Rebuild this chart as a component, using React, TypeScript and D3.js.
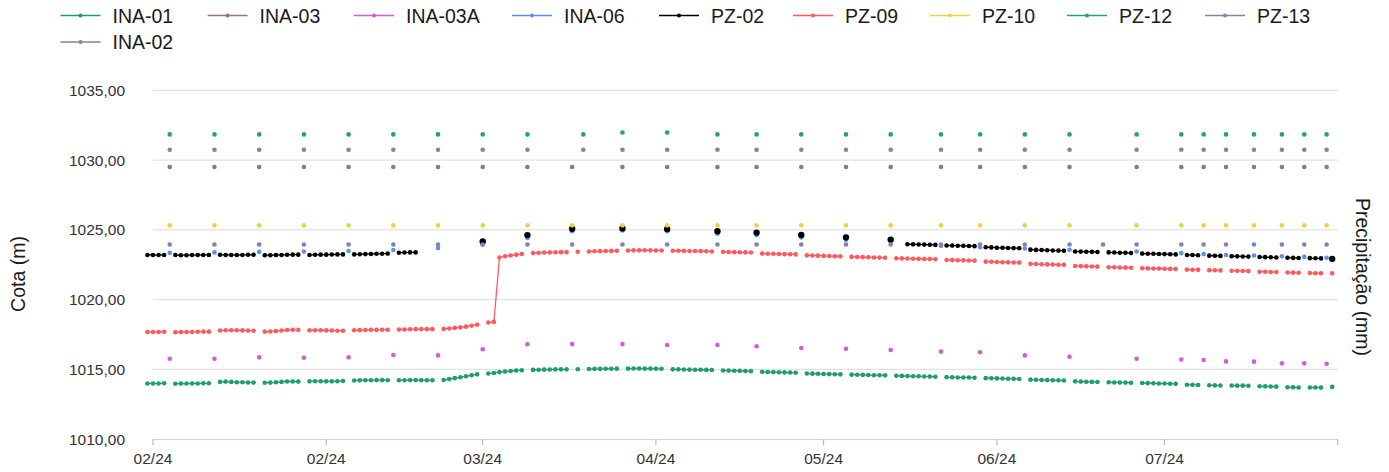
import React from "react";
import * as d3 from "d3";

const W = 1389;
const H = 472;

const yTicks = [1010, 1015, 1020, 1025, 1030, 1035];
const xTickDates = ["2024-01-02", "2024-02-02", "2024-03-01", "2024-04-01", "2024-05-01", "2024-06-01", "2024-07-01", "2024-08-01"];
const xTickLabels = ["02/24", "02/24", "03/24", "04/24", "05/24", "06/24", "07/24", ""];

// manual reading dates (sparse series)
const readingDates = [
  "2024-01-05", "2024-01-13", "2024-01-21", "2024-01-29", "2024-02-06", "2024-02-14", "2024-02-22",
  "2024-03-01", "2024-03-09", "2024-03-17", "2024-03-19", "2024-03-26", "2024-04-03", "2024-04-12",
  "2024-04-19", "2024-04-27", "2024-05-05", "2024-05-13", "2024-05-22", "2024-05-29", "2024-06-06",
  "2024-06-14", "2024-06-20", "2024-06-26", "2024-07-04", "2024-07-08", "2024-07-12", "2024-07-17",
  "2024-07-22", "2024-07-26", "2024-07-30",
];

const pz12Values = [1031.84, 1031.84, 1031.84, 1031.84, 1031.84, 1031.84, 1031.84, 1031.84, 1031.84, null, 1031.84, 1031.98, 1031.98, 1031.84, 1031.84, 1031.84, 1031.84, 1031.84, 1031.84, 1031.84, 1031.84, 1031.84, null, 1031.84, 1031.84, 1031.84, 1031.84, 1031.84, 1031.84, 1031.84, 1031.84];
const pz13Values = [1030.74, 1030.74, 1030.74, 1030.74, 1030.74, 1030.74, 1030.74, 1030.74, 1030.74, null, 1030.74, 1030.74, 1030.74, 1030.74, 1030.74, 1030.74, 1030.74, 1030.74, 1030.74, 1030.74, 1030.74, 1030.74, null, 1030.74, 1030.74, 1030.74, 1030.74, 1030.74, 1030.74, 1030.74, 1030.74];
const ina03Values = [1029.5, 1029.5, 1029.5, 1029.5, 1029.5, 1029.5, 1029.5, 1029.5, 1029.5, 1029.5, null, 1029.5, 1029.5, 1029.5, 1029.5, 1029.5, 1029.5, 1029.5, 1029.5, 1029.5, 1029.5, 1029.5, null, 1029.5, 1029.5, 1029.5, 1029.5, 1029.5, 1029.5, 1029.5, 1029.5];
const pz10Values = [1025.32, 1025.32, 1025.32, 1025.32, 1025.32, 1025.32, 1025.32, 1025.32, 1025.32, 1025.32, null, 1025.32, 1025.32, 1025.32, 1025.32, 1025.32, 1025.32, 1025.32, 1025.32, 1025.32, 1025.32, 1025.32, null, 1025.32, 1025.32, 1025.32, 1025.32, 1025.32, 1025.32, 1025.32, 1025.32];
const ina03aValues = [1015.76, 1015.76, 1015.86, 1015.83, 1015.86, 1016.03, 1016.0, 1016.44, 1016.8, 1016.81, null, 1016.81, 1016.74, 1016.74, 1016.66, 1016.53, 1016.48, 1016.39, 1016.27, 1016.22, 1016.0, 1015.9, null, 1015.76, 1015.71, 1015.67, 1015.57, 1015.55, 1015.43, 1015.43, 1015.4];
const ina06Values = [1023.35, 1023.38, 1023.42, 1023.45, 1023.48, 1023.55, 1023.7, 1023.95, 1024.42, 1024.9, null, 1024.95, 1024.9, 1024.72, 1024.62, 1024.45, 1024.28, 1024.12, 1023.85, 1023.76, 1023.66, 1023.57, null, 1023.45, 1023.33, 1023.26, 1023.2, 1023.16, 1023.1, 1023.06, 1023.0];
const ina02Values = [1023.95, 1023.95, 1023.95, 1023.95, 1023.95, 1023.95, 1023.95, 1023.95, 1023.95, 1023.95, null, 1023.95, 1023.95, 1023.95, 1023.95, 1023.95, 1023.95, 1023.95, 1023.95, 1023.95, 1023.95, 1023.95, 1023.95, 1023.95, 1023.95, 1023.95, 1023.95, 1023.95, 1023.95, 1023.95, 1023.95];

// daily logger series: runs of consecutive days [first day, values]
type Run = [string, number[]];

const ina01Runs: Run[] = [
  ["2024-01-01", [1013.99, 1013.98, 1013.99, 1014.0]],
  ["2024-01-06", [1013.97, 1013.98, 1013.98, 1013.99, 1013.99, 1014.0, 1014.0]],
  ["2024-01-14", [1014.1, 1014.12, 1014.1, 1014.08, 1014.07, 1014.06, 1014.05]],
  ["2024-01-22", [1014.04, 1014.05, 1014.07, 1014.1, 1014.13, 1014.13, 1014.12]],
  ["2024-01-30", [1014.14, 1014.15, 1014.15, 1014.14, 1014.14, 1014.15, 1014.16]],
  ["2024-02-07", [1014.2, 1014.21, 1014.22, 1014.22, 1014.23, 1014.23, 1014.22]],
  ["2024-02-15", [1014.22, 1014.22, 1014.23, 1014.23, 1014.22, 1014.22, 1014.22]],
  ["2024-02-23", [1014.24, 1014.3, 1014.37, 1014.43, 1014.5, 1014.58, 1014.64]],
  ["2024-03-02", [1014.7, 1014.74, 1014.8, 1014.85, 1014.88, 1014.92, 1014.94]],
  ["2024-03-10", [1014.96, 1014.97, 1014.98, 1014.99, 1015.0, 1015.0, 1015.0]],
  ["2024-03-18", [1015.01]],
  ["2024-03-20", [1015.02, 1015.03, 1015.03, 1015.04, 1015.04, 1015.05]],
  ["2024-03-27", [1015.05, 1015.06, 1015.06, 1015.05, 1015.05, 1015.04, 1015.04]],
  ["2024-04-04", [1015.0, 1015.0, 1014.99, 1014.98, 1014.97, 1014.97, 1014.96, 1014.95]],
  ["2024-04-13", [1014.92, 1014.91, 1014.9, 1014.89, 1014.88, 1014.87]],
  ["2024-04-20", [1014.82, 1014.81, 1014.8, 1014.79, 1014.78, 1014.77, 1014.76]],
  ["2024-04-28", [1014.7, 1014.69, 1014.68, 1014.67, 1014.66, 1014.65, 1014.64]],
  ["2024-05-06", [1014.62, 1014.61, 1014.6, 1014.59, 1014.58, 1014.58, 1014.57]],
  ["2024-05-14", [1014.54, 1014.53, 1014.52, 1014.51, 1014.5, 1014.49, 1014.48, 1014.47]],
  ["2024-05-23", [1014.44, 1014.43, 1014.42, 1014.42, 1014.41, 1014.4]],
  ["2024-05-30", [1014.37, 1014.36, 1014.35, 1014.34, 1014.33, 1014.32, 1014.31]],
  ["2024-06-07", [1014.26, 1014.25, 1014.24, 1014.23, 1014.22, 1014.21, 1014.2]],
  ["2024-06-15", [1014.14, 1014.12, 1014.11, 1014.1, 1014.09]],
  ["2024-06-21", [1014.07, 1014.06, 1014.06, 1014.05, 1014.04]],
  ["2024-06-27", [1014.02, 1014.01, 1014.0, 1013.99, 1013.98, 1013.97, 1013.96]],
  ["2024-07-05", [1013.9, 1013.89, 1013.88]],
  ["2024-07-09", [1013.86, 1013.85, 1013.84]],
  ["2024-07-13", [1013.84, 1013.83, 1013.83, 1013.82]],
  ["2024-07-18", [1013.79, 1013.78, 1013.77, 1013.76]],
  ["2024-07-23", [1013.72, 1013.71, 1013.7]],
  ["2024-07-27", [1013.7, 1013.7, 1013.69]],
  ["2024-07-31", [1013.74]],
];

const pz09Runs: Run[] = [
  ["2024-01-01", [1017.68, 1017.67, 1017.68, 1017.69]],
  ["2024-01-06", [1017.66, 1017.67, 1017.68, 1017.68, 1017.69, 1017.7, 1017.7]],
  ["2024-01-14", [1017.78, 1017.8, 1017.8, 1017.8, 1017.79, 1017.78, 1017.77]],
  ["2024-01-22", [1017.7, 1017.71, 1017.74, 1017.78, 1017.82, 1017.83, 1017.83]],
  ["2024-01-30", [1017.8, 1017.8, 1017.8, 1017.79, 1017.78, 1017.77, 1017.77]],
  ["2024-02-07", [1017.8, 1017.81, 1017.82, 1017.83, 1017.83, 1017.84, 1017.84]],
  ["2024-02-15", [1017.85, 1017.86, 1017.87, 1017.88, 1017.88, 1017.88, 1017.88]],
  ["2024-02-23", [1017.9, 1017.93, 1017.97, 1018.01, 1018.06, 1018.12, 1018.2]],
  ["2024-03-02", [1018.36, 1018.4, 1023.02, 1023.1, 1023.16, 1023.22, 1023.27]],
  ["2024-03-10", [1023.33, 1023.35, 1023.37, 1023.38, 1023.39, 1023.4, 1023.4]],
  ["2024-03-18", [1023.43]],
  ["2024-03-20", [1023.45, 1023.46, 1023.47, 1023.48, 1023.49, 1023.5]],
  ["2024-03-27", [1023.52, 1023.53, 1023.53, 1023.54, 1023.53, 1023.52, 1023.52]],
  ["2024-04-04", [1023.5, 1023.5, 1023.49, 1023.48, 1023.48, 1023.47, 1023.46, 1023.45]],
  ["2024-04-13", [1023.42, 1023.41, 1023.4, 1023.39, 1023.38, 1023.37]],
  ["2024-04-20", [1023.3, 1023.29, 1023.28, 1023.27, 1023.26, 1023.25, 1023.24]],
  ["2024-04-28", [1023.17, 1023.16, 1023.15, 1023.13, 1023.12, 1023.11, 1023.1]],
  ["2024-05-06", [1023.06, 1023.05, 1023.04, 1023.03, 1023.02, 1023.01, 1023.0]],
  ["2024-05-14", [1022.96, 1022.95, 1022.94, 1022.93, 1022.92, 1022.91, 1022.9, 1022.89]],
  ["2024-05-23", [1022.84, 1022.83, 1022.82, 1022.81, 1022.8, 1022.79]],
  ["2024-05-30", [1022.72, 1022.71, 1022.69, 1022.68, 1022.67, 1022.66, 1022.65]],
  ["2024-06-07", [1022.56, 1022.55, 1022.53, 1022.52, 1022.51, 1022.5, 1022.49]],
  ["2024-06-15", [1022.41, 1022.4, 1022.38, 1022.37, 1022.36]],
  ["2024-06-21", [1022.32, 1022.31, 1022.3, 1022.29, 1022.28]],
  ["2024-06-27", [1022.25, 1022.24, 1022.23, 1022.22, 1022.21, 1022.2, 1022.19]],
  ["2024-07-05", [1022.15, 1022.14, 1022.13]],
  ["2024-07-09", [1022.11, 1022.1, 1022.09]],
  ["2024-07-13", [1022.07, 1022.06, 1022.05, 1022.04]],
  ["2024-07-18", [1022.0, 1021.99, 1021.98, 1021.97]],
  ["2024-07-23", [1021.94, 1021.93, 1021.92]],
  ["2024-07-27", [1021.9, 1021.89, 1021.89]],
  ["2024-07-31", [1021.88]],
];

const pz02Runs: Run[] = [
  ["2024-01-01", [1023.2, 1023.2, 1023.19, 1023.2]],
  ["2024-01-06", [1023.19, 1023.18, 1023.18, 1023.19, 1023.19, 1023.2, 1023.2]],
  ["2024-01-14", [1023.21, 1023.2, 1023.2, 1023.19, 1023.2, 1023.21, 1023.21]],
  ["2024-01-22", [1023.18, 1023.18, 1023.19, 1023.2, 1023.21, 1023.22, 1023.22]],
  ["2024-01-30", [1023.2, 1023.21, 1023.22, 1023.22, 1023.23, 1023.24, 1023.24]],
  ["2024-02-07", [1023.24, 1023.25, 1023.26, 1023.27, 1023.28, 1023.29, 1023.3]],
  ["2024-02-15", [1023.36, 1023.37, 1023.38, 1023.38]],
  ["2024-03-01", [1024.16]],
  ["2024-03-09", [1024.62]],
  ["2024-03-17", [1025.08]],
  ["2024-03-26", [1025.1]],
  ["2024-04-03", [1025.05]],
  ["2024-04-12", [1024.9]],
  ["2024-04-19", [1024.8]],
  ["2024-04-27", [1024.63]],
  ["2024-05-05", [1024.46]],
  ["2024-05-13", [1024.3]],
  ["2024-05-16", [1023.97, 1023.96, 1023.95, 1023.94, 1023.93, 1023.92]],
  ["2024-05-23", [1023.88, 1023.87, 1023.86, 1023.85, 1023.84, 1023.83]],
  ["2024-05-30", [1023.75, 1023.74, 1023.72, 1023.71, 1023.7, 1023.69, 1023.68]],
  ["2024-06-07", [1023.58, 1023.56, 1023.55, 1023.54, 1023.52, 1023.51, 1023.5]],
  ["2024-06-15", [1023.45, 1023.44, 1023.43, 1023.42, 1023.41]],
  ["2024-06-21", [1023.38, 1023.37, 1023.36, 1023.35, 1023.34]],
  ["2024-06-27", [1023.3, 1023.29, 1023.28, 1023.27, 1023.26, 1023.25, 1023.24]],
  ["2024-07-05", [1023.2, 1023.19, 1023.18]],
  ["2024-07-09", [1023.15, 1023.14, 1023.13]],
  ["2024-07-13", [1023.11, 1023.1, 1023.09, 1023.08]],
  ["2024-07-18", [1023.05, 1023.04, 1023.03, 1023.02]],
  ["2024-07-23", [1023.0, 1022.99, 1022.98]],
  ["2024-07-27", [1022.97, 1022.96, 1022.95]],
  ["2024-07-31", [1022.92]],
];

const seriesNames = ["INA-01", "INA-03", "INA-03A", "INA-06", "PZ-02", "PZ-09", "PZ-10", "PZ-12", "PZ-13", "INA-02"];
const seriesColors = ["#1e9e6e", "#9a727a", "#d65ad6", "#5b8ff0", "#000000", "#ff5a5f", "#f2cf40", "#22a372", "#8a7ea6", "#8480b0"];

const parse = d3.timeParse("%Y-%m-%d");

type Pt = { date: Date; value: number };

function runsToSegments(runs: Run[]): Pt[][] {
  return runs.map(([start, vals]) => {
    const s = parse(start)!;
    return vals.map((v, k) => ({ date: d3.timeDay.offset(s, k), value: v }));
  });
}
function sparseToSegments(values: (number | null)[]): Pt[][] {
  const out: Pt[][] = [];
  values.forEach((v, i) => {
    if (v != null) out.push([{ date: parse(readingDates[i])!, value: v }]);
  });
  return out;
}

const seriesData: Pt[][][] = [
  runsToSegments(ina01Runs),
  sparseToSegments(ina03Values),
  sparseToSegments(ina03aValues),
  sparseToSegments(ina06Values),
  runsToSegments(pz02Runs),
  runsToSegments(pz09Runs),
  sparseToSegments(pz10Values),
  sparseToSegments(pz12Values),
  sparseToSegments(pz13Values),
  sparseToSegments(ina02Values),
];

const legendPos: [number, number][] = [
  [60.5, 15.5], [207.6, 15.5], [354, 15.5], [512, 15.5], [659, 15.5],
  [793, 15.5], [930, 15.5], [1067, 15.5], [1205, 15.5], [60.5, 42],
];

const FONT = "'Liberation Sans', Arial, Helvetica, sans-serif";

export default function App() {
  const x = d3
    .scaleTime()
    .domain([parse("2024-01-01")!, parse("2024-08-01")!])
    .range([147.4, 1337.8]);
  const y = d3.scaleLinear().domain([1010, 1035]).range([439.1, 90.3]);
  const line = d3
    .line<Pt>()
    .x((d) => x(d.date))
    .y((d) => y(d.value));

  const axisX0 = x(parse(xTickDates[0])!);
  const axisX1 = x(parse(xTickDates[xTickDates.length - 1])!);

  return (
    <svg
      width={W}
      height={H}
      style={{ position: "absolute", left: 0, top: 0, background: "#fff" }}
      fontFamily={FONT}
    >
      <rect x={0} y={0} width={W} height={H} fill="#fff" />
      {/* gridlines */}
      {yTicks.slice(1).map((t) => (
        <line key={t} x1={axisX0} x2={axisX1} y1={y(t)} y2={y(t)} stroke="#e2e2e2" strokeWidth={1.2} />
      ))}
      {/* y tick labels */}
      {yTicks.map((t) => (
        <text key={t} x={125} y={y(t)} dy="0.36em" textAnchor="end" fontSize={15.5} fill="#333">
          {d3.format(".2f")(t).replace(".", ",")}
        </text>
      ))}
      {/* x axis */}
      <line x1={axisX0} x2={axisX1} y1={y(1010) + 0.5} y2={y(1010) + 0.5} stroke="#d0d0d0" strokeWidth={1} />
      {xTickDates.map((s, i) => {
        const xx = x(parse(s)!);
        return (
          <g key={s}>
            <line x1={xx} x2={xx} y1={y(1010)} y2={y(1010) + 6} stroke="#b0b0b0" strokeWidth={1} />
            <text x={xx} y={464} textAnchor="middle" fontSize={15.5} fill="#333">
              {xTickLabels[i]}
            </text>
          </g>
        );
      })}
      {/* axis titles */}
      <text transform="translate(25,274) rotate(-90)" textAnchor="middle" fontSize={19.5} fill="#1a1a1a">
        Cota (m)
      </text>
      <text transform="translate(1356,277) rotate(90)" textAnchor="middle" fontSize={19.5} fill="#1a1a1a">
        Precipitação (mm)
      </text>
      {/* series */}
      {seriesData.map((segs, si) => (
        <g key={seriesNames[si]}>
          {segs.map((seg, k) =>
            seg.length > 1 ? (
              <path key={"l" + k} d={line(seg) || ""} fill="none" stroke={seriesColors[si]} strokeWidth={1.3} />
            ) : null
          )}
          {segs.map((seg, k) =>
            seg.map((p, j) => (
              <circle
                key={k + "-" + j}
                cx={x(p.date)}
                cy={y(p.value)}
                r={seriesNames[si] === "PZ-02" && seg.length === 1 ? 3.2 : 2.3}
                fill={seriesColors[si]}
              />
            ))
          )}
        </g>
      ))}
      {/* legend */}
      {seriesNames.map((n, i) => {
        const [lx, ly] = legendPos[i];
        return (
          <g key={n}>
            <line x1={lx} x2={lx + 40} y1={ly} y2={ly} stroke={seriesColors[i]} strokeWidth={1.5} />
            <circle cx={lx + 20} cy={ly} r={2} fill={seriesColors[i]} />
            <text x={lx + 52} y={ly + 7} fontSize={19.5} fill="#1a1a1a">
              {n}
            </text>
          </g>
        );
      })}
    </svg>
  );
}
